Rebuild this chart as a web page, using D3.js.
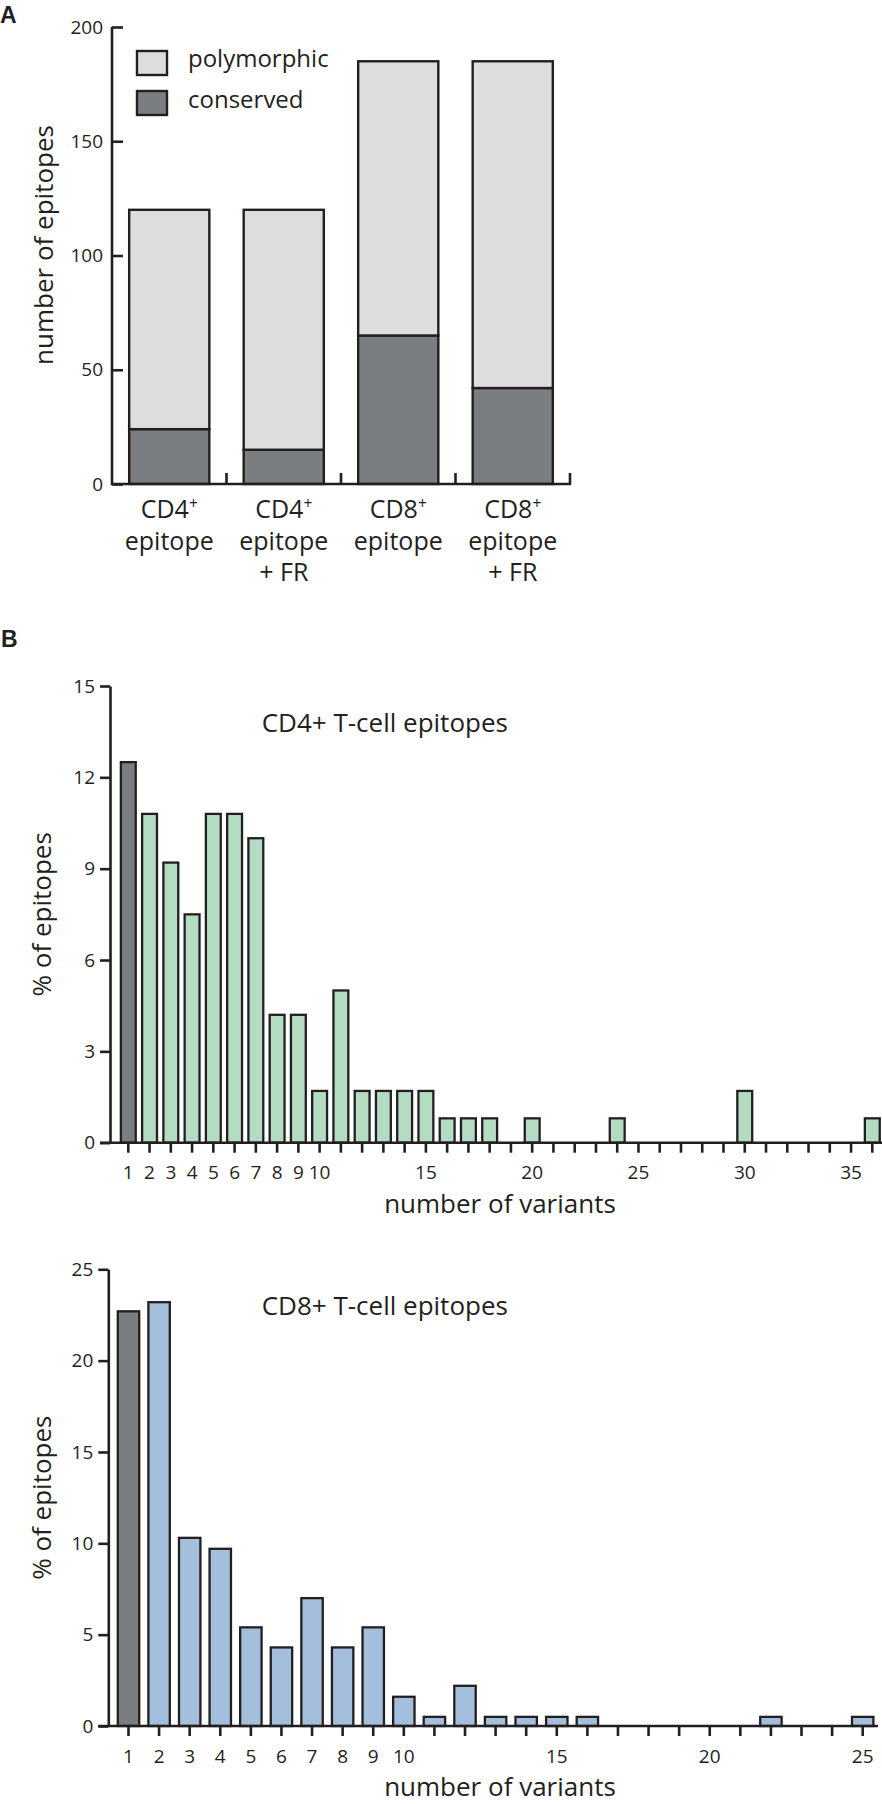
<!DOCTYPE html>
<html>
<head>
<meta charset="utf-8">
<script src="https://d3js.org/d3.v7.min.js"></script>
<style>
    body { margin: 0; background: #fff; }
    svg text { font-family: "Open Sans", sans-serif; fill: #231f20; }
    .panel-letter { font-family: "Liberation Sans", Arial, sans-serif; font-weight: bold; font-size: 23px; }
</style>
</head>
<body>
<div id="chart"></div>
<script>
// ---- panel A data ----
const groupKeys = ['cd4', 'cd4fr', 'cd8', 'cd8fr'];
const groupLabels = [['CD4+', 'epitope'], ['CD4+', 'epitope', '+ FR'], ['CD8+', 'epitope'], ['CD8+', 'epitope', '+ FR']];
const conserved = [24, 15, 65, 42];
const polymorphic = [96, 105, 120, 143];
const countTicks = [0, 50, 100, 150, 200];
const legendLabels = ['polymorphic', 'conserved'];

// ---- panel B data ----
const cd4Variants = [1, 2, 3, 4, 5, 6, 7, 8, 9, 10, 11, 12, 13, 14, 15, 16, 17, 18, 20, 24, 30, 36];
const cd4Percent = [12.5, 10.8, 9.2, 7.5, 10.8, 10.8, 10.0, 4.2, 4.2, 1.7, 5.0, 1.7, 1.7, 1.7, 1.7, 0.8, 0.8, 0.8, 0.8, 0.8, 1.7, 0.8];
const cd4PctTicks = [0, 3, 6, 9, 12, 15];
const cd4LabelTicks = [1, 2, 3, 4, 5, 6, 7, 8, 9, 10, 15, 20, 25, 30, 35];

const cd8Variants = [1, 2, 3, 4, 5, 6, 7, 8, 9, 10, 11, 12, 13, 14, 15, 16, 22, 25];
const cd8Percent = [22.7, 23.2, 10.3, 9.7, 5.4, 4.3, 7.0, 4.3, 5.4, 1.6, 0.5, 2.2, 0.5, 0.5, 0.5, 0.5, 0.5, 0.5];
const cd8PctTicks = [0, 5, 10, 15, 20, 25];
const cd8LabelTicks = [1, 2, 3, 4, 5, 6, 7, 8, 9, 10, 15, 20, 25];

const ink = '#231f20';
const greyDark = '#7b7e81';
const greyLight = '#dcdedd';
const green = '#b4dcc2';
const blue = '#a3bfdb';

const svg = d3.select('#chart')
    .append('svg')
    .attr('width', 882)
    .attr('height', 1804);

// writes "CD4+" with the plus raised
function addLabelLine(g, str, x, y, size) {
    const t = g.append('text')
        .attr('x', x).attr('y', y)
        .attr('text-anchor', 'middle')
        .style('font-size', size + 'px');
    if (/^CD\d\+$/.test(str)) {
        t.append('tspan').text(str.slice(0, -1));
        t.append('tspan').text('+')
            .style('font-size', (size * 0.62) + 'px')
            .attr('dy', -size * 0.38);
    } else {
        t.text(str);
    }
}

// ================= panel A =================
svg.append('text').attr('class', 'panel-letter').attr('x', 0).attr('y', 23).text('A');

const xA = d3.scaleBand()
    .domain(groupKeys)
    .range([112, 570])
    .paddingInner(0.3)
    .paddingOuter(0.15);
const yA = d3.scaleLinear().domain([0, 200]).range([484, 27]);

const rowsA = groupKeys.map((k, i) => ({key: k, conserved: conserved[i], polymorphic: polymorphic[i]}));
const stackA = d3.stack().keys(['conserved', 'polymorphic'])(rowsA);
const fillA = {conserved: greyDark, polymorphic: greyLight};

const barsA = svg.append('g');
stackA.forEach(layer => {
    barsA.selectAll(null)
        .data(layer)
        .join('rect')
        .attr('x', d => xA(d.data.key))
        .attr('width', xA.bandwidth())
        .attr('y', d => yA(d[1]))
        .attr('height', d => yA(d[0]) - yA(d[1]))
        .attr('fill', fillA[layer.key])
        .attr('stroke', ink)
        .attr('stroke-width', 2.4);
});

// y axis with inward ticks
const yAxisA = svg.append('g')
    .attr('transform', 'translate(112,0)')
    .call(d3.axisLeft(yA).tickValues(countTicks).tickSize(-11).tickSizeOuter(0).tickPadding(9));
yAxisA.selectAll('path, line').attr('stroke', ink).attr('stroke-width', 2.6);
yAxisA.selectAll('text').style('font-size', '19px').attr('fill', ink);
yAxisA.select('.domain').attr('d', `M0,${yA(0) + 1}V${yA(200)}`);

// x axis: ticks between groups, pointing up
const boundsA = groupKeys.slice(1).map(k => xA(k) - xA.step() * xA.paddingInner() / 2).concat([xA.range()[1]]);
svg.append('line')
    .attr('x1', 111).attr('x2', 571)
    .attr('y1', yA(0)).attr('y2', yA(0))
    .attr('stroke', ink).attr('stroke-width', 2.6);
svg.append('g').selectAll('line')
    .data(boundsA)
    .join('line')
    .attr('x1', d => d).attr('x2', d => d)
    .attr('y1', yA(0)).attr('y2', yA(0) - 11)
    .attr('stroke', ink).attr('stroke-width', 2.6);

const catLabels = svg.append('g');
groupKeys.forEach((k, i) => {
    groupLabels[i].forEach((line, j) => {
        addLabelLine(catLabels, line, xA(k) + xA.bandwidth() / 2, 518 + j * 31.7, 25);
    });
});

svg.append('text')
    .attr('transform', 'translate(53,245) rotate(-90)')
    .attr('text-anchor', 'middle')
    .style('font-size', '26px')
    .text('number of epitopes');

// legend
const legend = svg.append('g');
[greyLight, greyDark].forEach((c, i) => {
    legend.append('rect')
        .attr('x', 137).attr('y', 51 + i * 40)
        .attr('width', 30).attr('height', 24)
        .attr('fill', c).attr('stroke', ink).attr('stroke-width', 2.4);
    legend.append('text')
        .attr('x', 188).attr('y', 67 + i * 41)
        .style('font-size', '24px')
        .text(legendLabels[i]);
});

// ================= panel B =================
svg.append('text').attr('class', 'panel-letter').attr('x', 1).attr('y', 647).text('B');

function drawHist(cfg) {
    const x = d3.scaleLinear().domain(cfg.xDomain).range(cfg.xRange);
    const y = d3.scaleLinear().domain(cfg.yDomain).range(cfg.yRange);
    const step = x(2) - x(1);
    const w = step * 0.7;
    const g = svg.append('g');

    g.selectAll('rect')
        .data(cfg.variants.map((v, i) => ({v: v, p: cfg.percent[i]})))
        .join('rect')
        .attr('x', d => x(d.v) - w / 2)
        .attr('width', w)
        .attr('y', d => y(d.p))
        .attr('height', d => y(0) - y(d.p))
        .attr('fill', d => d.v === 1 ? greyDark : cfg.color)
        .attr('stroke', ink)
        .attr('stroke-width', 2.3);

    const yAx = g.append('g')
        .attr('transform', `translate(${cfg.axisX},0)`)
        .call(d3.axisLeft(y).tickValues(cfg.yTicks).tickSize(10).tickSizeOuter(0).tickPadding(5));
    yAx.selectAll('path, line').attr('stroke', ink).attr('stroke-width', 2.6);
    yAx.selectAll('text').style('font-size', '19px').attr('fill', ink);

    // x axis line + one tick per integer
    g.append('line')
        .attr('x1', cfg.axisX - 10).attr('x2', cfg.axisEnd)
        .attr('y1', y(0)).attr('y2', y(0))
        .attr('stroke', ink).attr('stroke-width', 2.6);
    g.append('g').selectAll('line')
        .data(d3.range(cfg.xDomain[0], cfg.xDomain[1] + 1))
        .join('line')
        .attr('x1', d => x(d)).attr('x2', d => x(d))
        .attr('y1', y(0)).attr('y2', y(0) + 10)
        .attr('stroke', ink).attr('stroke-width', 2.6);
    g.append('g').selectAll('text')
        .data(cfg.labelTicks)
        .join('text')
        .attr('x', d => x(d))
        .attr('y', cfg.tickLabelY)
        .attr('text-anchor', 'middle')
        .style('font-size', '19px')
        .text(d => d);

    g.append('text')
        .attr('x', 261.7).attr('y', cfg.titleY)
        .style('font-size', '26px')
        .text(cfg.title);

    g.append('text')
        .attr('x', 500).attr('y', cfg.xLabelY)
        .attr('text-anchor', 'middle')
        .style('font-size', '26px')
        .text('number of variants');

    g.append('text')
        .attr('transform', `translate(51,${(cfg.yRange[0] + cfg.yRange[1]) / 2}) rotate(-90)`)
        .attr('text-anchor', 'middle')
        .style('font-size', '26px')
        .text('% of epitopes');
}

drawHist({
    variants: cd4Variants, percent: cd4Percent,
    xDomain: [1, 36], xRange: [128.3, 872.3],
    yDomain: [0, 15], yRange: [1142.7, 686],
    yTicks: cd4PctTicks, labelTicks: cd4LabelTicks,
    axisX: 110, axisEnd: 882, color: green,
    tickLabelY: 1179, titleY: 731.7, xLabelY: 1213,
    title: 'CD4+ T-cell epitopes'
});

drawHist({
    variants: cd8Variants, percent: cd8Percent,
    xDomain: [1, 25], xRange: [128.5, 862.7],
    yDomain: [0, 25], yRange: [1726, 1269.3],
    yTicks: cd8PctTicks, labelTicks: cd8LabelTicks,
    axisX: 108.3, axisEnd: 878, color: blue,
    tickLabelY: 1763, titleY: 1315, xLabelY: 1796,
    title: 'CD8+ T-cell epitopes'
});
</script>
</body>
</html>
